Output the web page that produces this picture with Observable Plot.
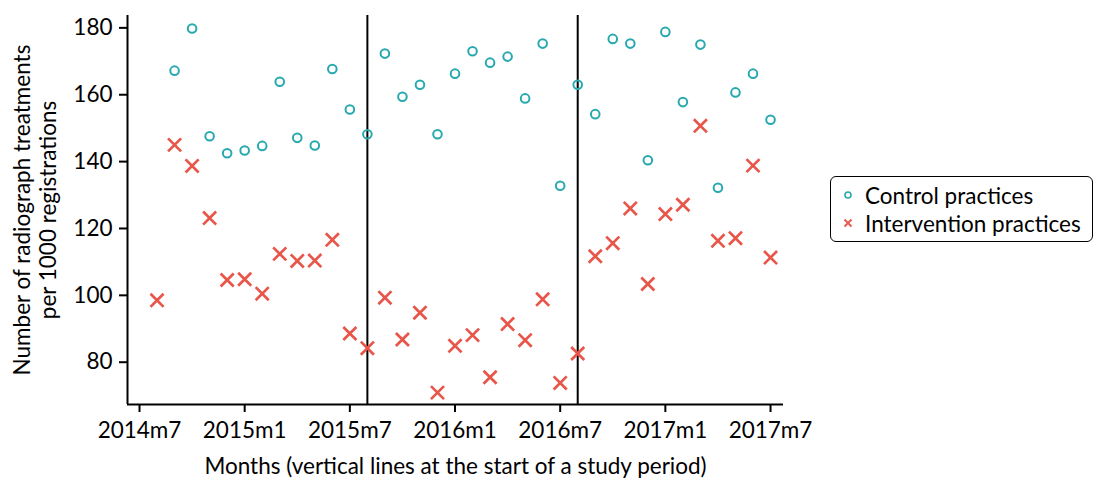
<!DOCTYPE html>
<html>
<head>
<meta charset="utf-8">
<script src="https://cdn.jsdelivr.net/npm/d3@7"></script>
<script src="https://cdn.jsdelivr.net/npm/@observablehq/plot@0.6"></script>
<style>
  body { margin: 0; background: #fff; font-family: Lato, sans-serif; }
  #wrap { position: relative; width: 1095px; height: 478px; }
  #legend { position: absolute; left: 830px; top: 176px; width: 263px; height: 66px;
            box-sizing: border-box; border: 1.5px solid #000; border-radius: 6px; background: #fff;
            font-family: Lato, sans-serif; font-size: 22.5px; color: #000; }
  .row { position: absolute; left: 0; height: 28px; display: flex; align-items: center; white-space: nowrap; }
  .row svg { margin-left: 12px; margin-right: 12px; }
</style>
</head>
<body>
<div id="wrap"><div id="chart"></div>
<div id="legend"></div></div>
<script>
const months = ["2014m8","2014m9","2014m10","2014m11","2014m12","2015m1","2015m2","2015m3","2015m4","2015m5","2015m6","2015m7",
  "2015m8","2015m9","2015m10","2015m11","2015m12","2016m1","2016m2","2016m3","2016m4","2016m5","2016m6","2016m7",
  "2016m8","2016m9","2016m10","2016m11","2016m12","2017m1","2017m2","2017m3","2017m4","2017m5","2017m6","2017m7"];
const control = [null,167.2,179.8,147.6,142.5,143.3,144.7,163.9,147.1,144.8,167.7,155.6,
  148.2,172.3,159.4,163.0,148.2,166.3,173.0,169.6,171.4,158.9,175.3,132.8,
  163.0,154.2,176.7,175.3,140.4,178.8,157.8,175.0,132.2,160.7,166.3,152.5];
const intervention = [98.5,145.0,138.7,123.1,104.6,104.8,100.5,112.4,110.3,110.4,116.6,88.6,
  84.2,99.3,86.8,94.8,70.9,84.9,88.1,75.5,91.4,86.6,98.8,73.8,
  82.6,111.7,115.6,126.0,103.4,124.3,127.1,150.7,116.3,117.1,138.8,111.3];
const xTickLabels = ["2014m7","2015m1","2015m7","2016m1","2016m7","2017m1","2017m7"];
const studyStarts = ["2015m8","2016m8"];
const yTicks = [80,100,120,140,160,180];
const seriesNames = ["Control practices","Intervention practices"];
const yTitle = ["Number of radiograph treatments","per 1000 registrations"];
const xTitle = "Months (vertical lines at the start of a study period)";

const teal = "#27A9AF", red = "#E8564A";
const FS = 22.5;
const idx = s => { const [y, m] = s.split("m").map(Number); return (y - 2014) * 12 + (m - 7); };
const labelOf = Object.fromEntries(xTickLabels.map(l => [idx(l), l]));

const ctrl = months.map((m, i) => ({x: idx(m), y: control[i]})).filter(d => d.y != null);
const intv = months.map((m, i) => ({x: idx(m), y: intervention[i]})).filter(d => d.y != null);
const xDom = [-0.685, 36.74], yDom = [67.35, 183.7];

const chart = Plot.plot({
  width: 1095, height: 478,
  marginLeft: 127, marginRight: 312, marginTop: 15, marginBottom: 74,
  style: {fontFamily: "Lato, sans-serif", fontSize: FS + "px", color: "#000", background: "#fff"},
  x: {domain: xDom},
  y: {domain: yDom},
  marks: [
    Plot.axisY({ticks: yTicks, tickSize: 8, tickPadding: 7, strokeWidth: 2, label: null, fontSize: FS}),
    Plot.axisX({ticks: xTickLabels.map(idx), tickFormat: d => labelOf[d], tickSize: 8, tickPadding: 10, strokeWidth: 2, label: null, fontSize: FS}),
    Plot.ruleX([xDom[0]], {stroke: "#000", strokeWidth: 2}),
    Plot.ruleY([yDom[0]], {stroke: "#000", strokeWidth: 2}),
    Plot.ruleX(studyStarts.map(idx), {stroke: "#000", strokeWidth: 2}),
    Plot.dot(ctrl, {x: "x", y: "y", symbol: "circle", r: 4.3, stroke: teal, strokeWidth: 2, fill: "none"}),
    Plot.dot(intv, {x: "x", y: "y", symbol: "times", r: 6, stroke: red, strokeWidth: 2.7}),
    Plot.text([yTitle[0]], {frameAnchor: "left", rotate: -90, dx: -105, textAnchor: "middle", lineAnchor: "middle", fontSize: FS}),
    Plot.text([yTitle[1]], {frameAnchor: "left", rotate: -90, dx: -79, textAnchor: "middle", lineAnchor: "middle", fontSize: FS}),
    Plot.text([xTitle], {frameAnchor: "bottom", dy: 62, textAnchor: "middle", lineAnchor: "middle", fontSize: FS})
  ]
});
document.getElementById("chart").appendChild(chart);

const legend = document.getElementById("legend");
const icons = [
  `<svg width="10" height="10"><circle cx="5" cy="5" r="3" fill="none" stroke="${teal}" stroke-width="1.6"/></svg>`,
  `<svg width="10" height="10"><path d="M1.5,1.5L8.5,8.5M8.5,1.5L1.5,8.5" stroke="${red}" stroke-width="1.8"/></svg>`
];
seriesNames.forEach((n, i) => {
  const r = document.createElement("div");
  r.className = "row";
  r.style.top = (4 + i * 28) + "px";
  r.innerHTML = icons[i] + `<span>${n}</span>`;
  legend.appendChild(r);
});
</script>
</body>
</html>
